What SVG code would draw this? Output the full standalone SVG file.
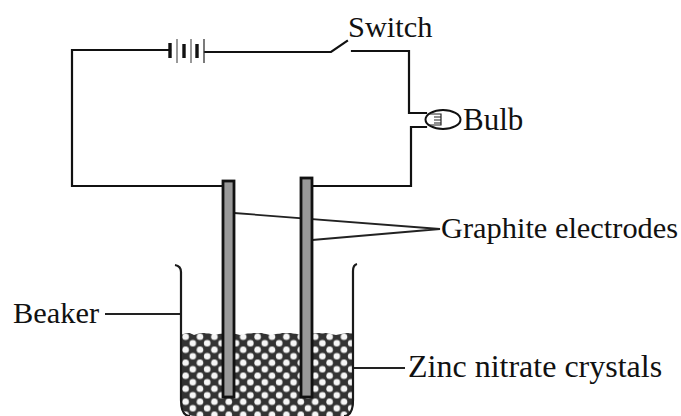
<svg xmlns="http://www.w3.org/2000/svg" width="681" height="416" viewBox="0 0 681 416">
<style>
.w{fill:none;stroke:#111;stroke-width:2.2;stroke-linecap:square}
.t{fill:none;stroke:#222;stroke-width:1.8}
.l{font-family:"Liberation Serif","Times New Roman",serif;font-size:30.4px;fill:#111}
.e{fill:#999;stroke:#111;stroke-width:2.8}
</style>
<defs>
<pattern id="balls" x="182" y="333.5" width="14.4" height="13" patternUnits="userSpaceOnUse">
<rect width="14.4" height="13" fill="#333"/>
<circle cx="3.6" cy="3.2" r="3.3" fill="#f6f6f6"/>
<circle cx="10.8" cy="9.7" r="3.3" fill="#f6f6f6"/>
</pattern>
<clipPath id="fill"><path d="M181 335L186 333H190L194 335L200 333H208L214 335L224 333H232L240 335L250 333H262L270 335L282 333H292L302 335L316 333H326L336 335L346 333H354V400Q354 416 340 416H196Q181 416 181 400Z"/></clipPath>
</defs>
<rect width="681" height="416" fill="#fff"/>
<g id="connectors">
<path class="w" d="M170 50H72V186H222"/>
<path class="w" d="M205 52H331L347 41"/>
<path class="w" d="M352 51H409V113H426"/>
<path class="w" d="M426 127H411V186H312"/>
<path class="t" d="M234 213L440 229L312 240"/>
<path class="t" d="M105 314H182"/>
<path class="t" d="M354 368H405"/>
</g>
<g id="battery">
<path d="M170 43V58" stroke="#111" stroke-width="3.4"/>
<path d="M177 39V63" stroke="#555" stroke-width="1.2"/>
<path d="M184 44V58" stroke="#111" stroke-width="3.4"/>
<path d="M191 39V63" stroke="#555" stroke-width="1.2"/>
<path d="M197 44V58" stroke="#111" stroke-width="3.4"/>
<path d="M204 39V63" stroke="#333" stroke-width="1.3"/>
</g>
<g id="switch"><text class="l" x="348" y="37">Switch</text></g>
<g id="bulb">
<ellipse cx="443" cy="119.5" rx="17.5" ry="9.5" fill="#fff" stroke="#111" stroke-width="2"/>
<path d="M429 114H441V125H429M434 117H441M434 120H441M434 123H441" fill="none" stroke="#222" stroke-width="1.2"/>
<text class="l" x="463" y="130" style="font-size:31px">Bulb</text>
</g>
<g id="beaker">
<rect x="181" y="333" width="173" height="83" fill="url(#balls)" clip-path="url(#fill)"/>
<path d="M175 265Q181 266 181 272V400Q181 416 190 416M357 264Q353 265 353 271V400Q353 416 344 416" fill="none" stroke="#1a1a1a" stroke-width="2.2"/>
<text class="l" x="13" y="323">Beaker</text>
</g>
<g id="crystals"><text class="l" x="408" y="377" style="font-size:32px">Zinc nitrate crystals</text></g>
<g id="electrodes">
<rect class="e" x="223" y="181" width="11" height="216"/>
<rect class="e" x="301" y="178" width="11" height="219"/>
<text class="l" x="441" y="238">Graphite electrodes</text>
</g>
</svg>
